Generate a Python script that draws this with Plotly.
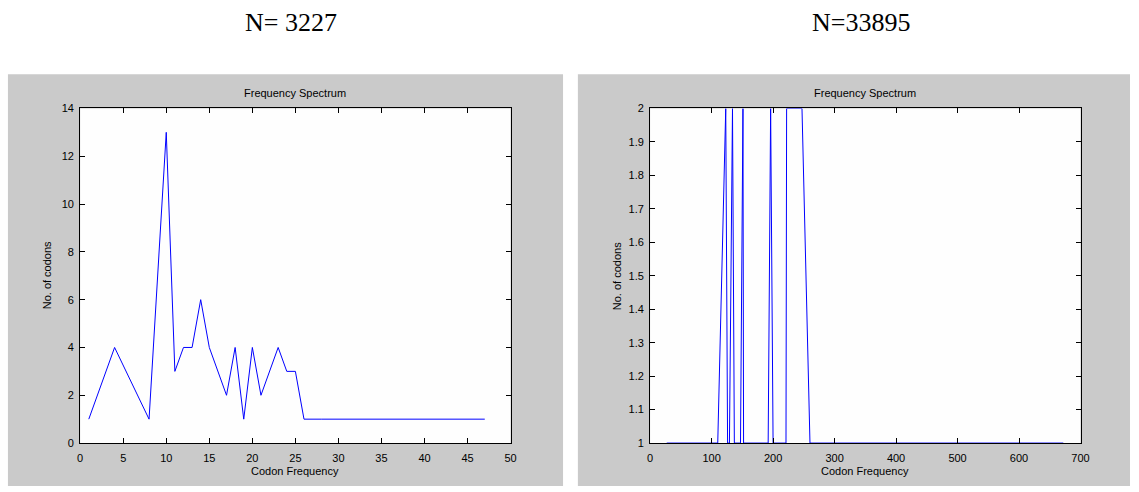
import plotly.graph_objects as go

W, H = 1139, 492

# ---------------- data ----------------
left_freq = [1, 4, 8, 10, 11, 12, 13, 14, 15, 17, 18, 19, 20, 21, 23, 24, 25, 26,
             28, 30, 33, 35, 38, 41, 44, 47]
left_count = [1, 4, 1, 13, 3, 4, 4, 6, 4, 2, 4, 1, 4, 2, 4, 3, 3, 1,
              1, 1, 1, 1, 1, 1, 1, 1]

right_freq = [27, 45, 70, 92, 110, 123, 126, 129, 134, 137, 147, 151, 152, 192, 196,
              200, 221, 222, 247, 260, 290, 330, 380, 420, 470, 520, 575, 630, 672]
right_count = [1, 1, 1, 1, 1, 2, 1, 1, 2, 1, 1, 2, 1, 1, 2,
               1, 1, 2, 2, 1, 1, 1, 1, 1, 1, 1, 1, 1, 1]

left_xticks = [0, 5, 10, 15, 20, 25, 30, 35, 40, 45, 50]
left_yticks = [0, 2, 4, 6, 8, 10, 12, 14]
right_xticks = [0, 100, 200, 300, 400, 500, 600, 700]
right_yticks = [1, 1.1, 1.2, 1.3, 1.4, 1.5, 1.6, 1.7, 1.8, 1.9, 2]
right_ytext = ["1", "1.1", "1.2", "1.3", "1.4", "1.5", "1.6", "1.7", "1.8", "1.9", "2"]

titles = ["N= 3227", "N=33895"]
plot_title = "Frequency Spectrum"
xlabel = "Codon Frequency"
ylabel = "No. of codons"

# ---------------- layout helpers ----------------
def px(x):
    return x / W

def py(y):
    return 1 - y / H

GREY = "#cacaca"
AX_TOP, AX_BOT = 105, 448
L_AX = (78, 513)
R_AX = (654, 1089)
L_PANEL = (5, 566)
R_PANEL = (581, 1139)
PANEL_TOP = 70

fig = go.Figure()
fig.add_trace(go.Scatter(x=left_freq, y=left_count, mode="lines",
                         line=dict(color="#0000ff", width=1), xaxis="x", yaxis="y",
                         showlegend=False, hoverinfo="skip"))
fig.add_trace(go.Scatter(x=right_freq, y=right_count, mode="lines",
                         line=dict(color="#0000ff", width=1), xaxis="x2", yaxis="y2",
                         showlegend=False, hoverinfo="skip", cliponaxis=True))

font_ax = dict(family="Liberation Sans, Arial, sans-serif", size=11, color="#000000")
common = dict(showgrid=False, zeroline=False, showline=True, linecolor="#000000",
              linewidth=1, mirror="ticks", ticks="inside", ticklen=5,
              tickcolor="#000000", tickwidth=1, tickfont=font_ax, fixedrange=True)

shapes = []
for (a, b), (c, d) in [(L_PANEL, L_AX), (R_PANEL, R_AX)]:
    shapes.append(dict(type="rect", xref="paper", yref="paper", x0=px(a), x1=px(b),
                       y0=0, y1=py(PANEL_TOP), fillcolor=GREY, line=dict(width=0),
                       layer="below"))
    shapes.append(dict(type="rect", xref="paper", yref="paper", x0=px(c), x1=px(d),
                       y0=py(AX_BOT), y1=py(AX_TOP), fillcolor="#fefefe",
                       line=dict(width=0), layer="below"))

annotations = []
for (c, d), t in zip([L_AX, R_AX], titles):
    cx = px((c + d) / 2)
    annotations.append(dict(text=t, x=px((c + d) / 2 - 4), y=py(17), xref="paper", yref="paper",
                            showarrow=False, xanchor="center", yanchor="middle",
                            font=dict(family="Liberation Serif, Times New Roman, serif",
                                      size=26, color="#000000")))
    annotations.append(dict(text=plot_title, x=cx, y=py(89), xref="paper", yref="paper",
                            showarrow=False, xanchor="center", yanchor="middle",
                            font=dict(family="Liberation Sans, Arial, sans-serif",
                                      size=11, color="#000000")))
    annotations.append(dict(text=xlabel, x=cx, y=py(477), xref="paper", yref="paper",
                            showarrow=False, xanchor="center", yanchor="middle",
                            font=dict(family="Liberation Sans, Arial, sans-serif",
                                      size=11, color="#000000")))
    annotations.append(dict(text=ylabel, x=px(c - 34), y=py((AX_TOP + AX_BOT) / 2),
                            xref="paper", yref="paper", textangle=-90,
                            showarrow=False, xanchor="center", yanchor="middle",
                            font=dict(family="Liberation Sans, Arial, sans-serif",
                                      size=11, color="#000000")))

fig.update_layout(
    width=W, height=H, autosize=False,
    margin=dict(l=0, r=0, t=0, b=0, pad=0),
    paper_bgcolor="#ffffff", plot_bgcolor="rgba(0,0,0,0)",
    showlegend=False,
    xaxis=dict(domain=[px(L_AX[0]), px(L_AX[1])], range=[0, 50],
               tickvals=left_xticks, anchor="y", ticklabelstandoff=5, **common),
    yaxis=dict(domain=[py(AX_BOT), py(AX_TOP)], range=[0, 14],
               tickvals=left_yticks, anchor="x", ticklabelstandoff=3, **common),
    xaxis2=dict(domain=[px(R_AX[0]), px(R_AX[1])], range=[0, 700],
                tickvals=right_xticks, anchor="y2", ticklabelstandoff=5, **common),
    yaxis2=dict(domain=[py(AX_BOT), py(AX_TOP)], range=[1, 2],
                tickvals=right_yticks, ticktext=right_ytext, anchor="x2",
                ticklabelstandoff=3, **common),
    shapes=shapes,
    annotations=annotations,
)

fig.write_html("out.html")
